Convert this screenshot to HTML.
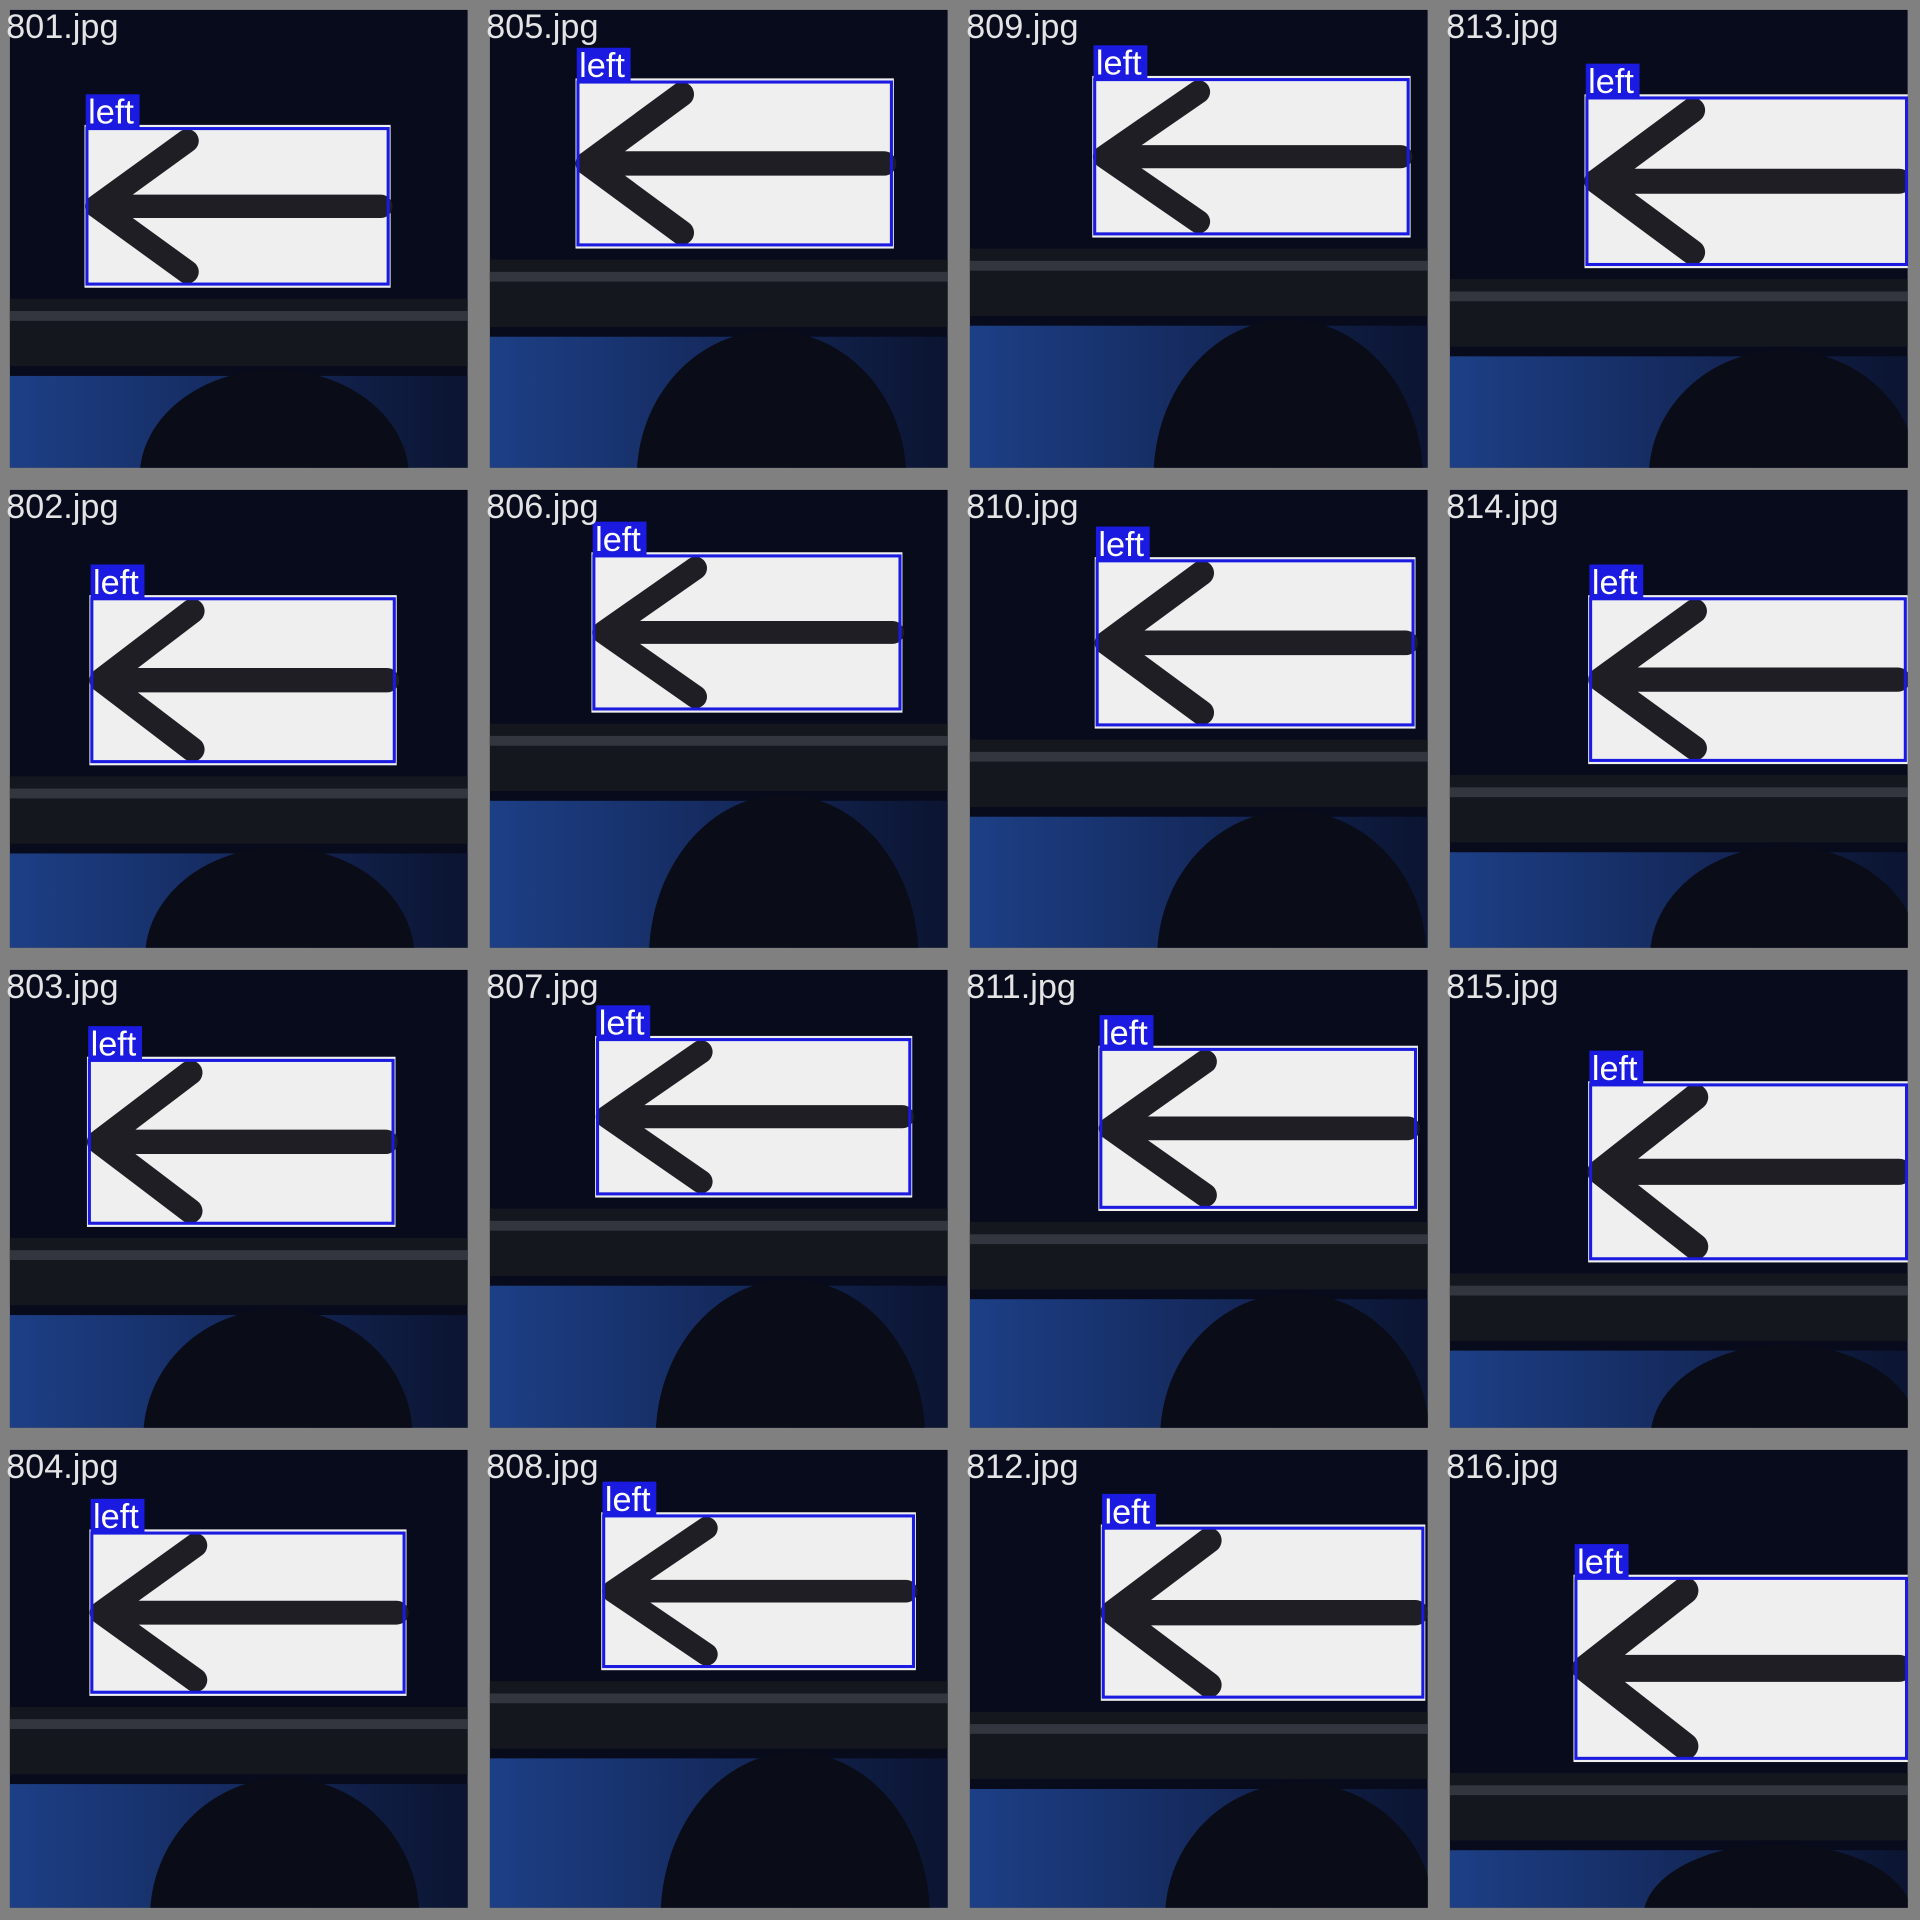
<!DOCTYPE html>
<html><head><meta charset="utf-8"><style>
html,body{margin:0;padding:0;background:#808080;overflow:hidden;width:1920px;height:1920px;}
svg{display:block;}
</style></head><body>
<svg id="grid" width="1920" height="1920" viewBox="0 0 1568 1568" xmlns="http://www.w3.org/2000/svg">
<defs>
<linearGradient id="bluefade" x1="0" y1="0" x2="1" y2="0">
<stop offset="0" stop-color="#1d3f86"/><stop offset="0.55" stop-color="#14285a"/><stop offset="1" stop-color="#0b1430"/>
</linearGradient>
<clipPath id="tileclip"><rect x="8" y="8" width="374" height="374"/></clipPath>
</defs>
<rect x="0" y="0" width="1568" height="1568" fill="#808080"/>
</svg>
<script>
const fileNames = ["801.jpg","805.jpg","809.jpg","813.jpg","802.jpg","806.jpg","810.jpg","814.jpg","803.jpg","807.jpg","811.jpg","815.jpg","804.jpg","808.jpg","812.jpg","816.jpg"];
const classLabels = ["left","left","left","left","left","left","left","left","left","left","left","left","left","left","left","left"];
const boxX1 = [71,80,110,120,75,93,112,123,73,96,115,123,75,101,117,111];
const boxY1 = [105,67,65,80,97,62,66,97,82,65,73,102,76,62,72,113];
const boxX2 = [317,336,366,381,322,343,370,380,321,351,372,381,330,354,378,381];
const boxY2 = [232,200,191,216,230,187,200,229,215,191,202,244,206,185,210,260];
const NS = "http://www.w3.org/2000/svg";
const svg = document.getElementById('grid');
const CELL = 392;
function mk(tag, attrs, parent){
  const e = document.createElementNS(NS, tag);
  for (const k in attrs) e.setAttribute(k, attrs[k]);
  parent.appendChild(e);
  return e;
}
for (let i = 0; i < fileNames.length; i++){
  const col = i % 4, row = Math.floor(i / 4);
  const ox = col * CELL, oy = row * CELL;
  const g = mk('g', {transform: 'translate(' + ox + ',' + oy + ')'}, svg);
  
  
  const p = mk('g', {'clip-path': 'url(#tileclip)'}, g);
  
  
  const x1 = boxX1[i], y1 = boxY1[i], x2 = boxX2[i], y2 = boxY2[i];
  const bg = mk('rect', {x: 8, y: 8, width: 374, height: 374, fill: '#070b1c'}, p);
  
  
  const low = mk('rect', {x: 8, y: y2 + 75, width: 374, height: 400, fill: 'url(#bluefade)'}, p);
  
  
  const sil = mk('ellipse', {cx: (x1 + x2) / 2 + 30, cy: 390, rx: 110, ry: 390 - (y2 + 70), fill: '#0a0c18'}, p);
  
  
  const band = mk('rect', {x: 8, y: y2 + 12, width: 374, height: 55, fill: '#15171f'}, p);
  
  
  const bandLine = mk('rect', {x: 8, y: y2 + 22, width: 374, height: 8, fill: '#34363f'}, p);
  
  
  const sign = mk('rect', {x: x1 - 2, y: y1 - 3, width: x2 - x1 + 4, height: y2 - y1 + 6, fill: '#eeefee'}, p);
  
  
  const h = y2 - y1, w = x2 - x1, cy = y1 + h / 2;
  const tipX = x1 + 8, headW = w * 0.3;
  const arrowPath = 'M' + (tipX + headW) + ' ' + (y1 + 10) + ' L' + tipX + ' ' + cy + ' L' + (tipX + headW) + ' ' + (y2 - 10) +
    ' M' + tipX + ' ' + cy + ' L' + (x2 - 6) + ' ' + cy;
  const arrow = mk('path', {d: arrowPath, stroke: '#1e1e24', 'stroke-width': Math.max(16, h * 0.15), fill: 'none', 'stroke-linejoin': 'round', 'stroke-linecap': 'round'}, p);
  
  
  const box = mk('rect', {x: x1, y: y1, width: x2 - x1, height: y2 - y1, fill: 'none', stroke: '#1a1ae0', 'stroke-width': 2.5}, g);
  
  
  const lab = mk('rect', {x: x1 - 1, y: y1 - 28, width: 44, height: 28, fill: '#1a1ae0'}, g);
  
  
  const lt = mk('text', {x: x1 + 1, y: y1 - 4, fill: '#ffffff', 'font-family': 'Liberation Sans, sans-serif', 'font-size': 28}, g);
  lt.textContent = classLabels[i];
  
  
  const fn = mk('text', {x: 5, y: 31, fill: '#e4e4e4', 'font-family': 'Liberation Sans, sans-serif', 'font-size': 28}, g);
  fn.textContent = fileNames[i];
  
  
}
</script>
</body></html>
